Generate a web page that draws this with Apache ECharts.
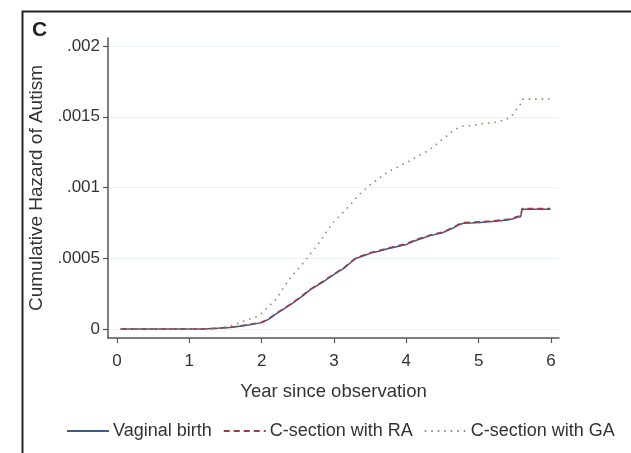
<!DOCTYPE html>
<html>
<head>
<meta charset="utf-8">
<script src="https://cdn.jsdelivr.net/npm/echarts@6/dist/echarts.min.js"></script>
<style>
  html, body { margin: 0; padding: 0; background: #fff; }
  #chart { width: 631px; height: 453px; }
</style>
</head>
<body>
<div id="chart"></div>
<script>
// Cumulative hazard of autism by mode of delivery / anaesthesia
const xTicks = [0, 1, 2, 3, 4, 5, 6];
const yTicks = [0, 0.0005, 0.001, 0.0015, 0.002];
const yTickLabels = ['0', '.0005', '.001', '.0015', '.002'];
const seriesNames = ['Vaginal birth', 'C-section with RA', 'C-section with GA'];

// [year, cumulative hazard]
const vaginal = [
  [0.05, 0], [1.2, 0], [1.4, 0.000005], [1.56, 0.00001], [1.7, 0.00002], [1.84, 0.00003],
  [2.0, 0.000045], [2.1, 0.00007], [2.19, 0.000104], [2.27, 0.00013], [2.35, 0.000156],
  [2.42, 0.00018], [2.49, 0.000205], [2.58, 0.00024], [2.67, 0.000276], [2.76, 0.000305],
  [2.85, 0.000334], [2.95, 0.000368], [3.04, 0.000398], [3.14, 0.00043], [3.22, 0.000465],
  [3.31, 0.0005], [3.42, 0.00052], [3.52, 0.000538], [3.62, 0.00055], [3.73, 0.000565],
  [3.85, 0.00058], [4.0, 0.000598], [4.1, 0.00062], [4.2, 0.000638], [4.33, 0.00066],
  [4.5, 0.00068], [4.65, 0.000715], [4.72, 0.000735], [4.79, 0.000748], [4.9, 0.00075],
  [5.02, 0.000753], [5.15, 0.000758], [5.3, 0.000765], [5.42, 0.000772], [5.48, 0.00078],
  [5.55, 0.000792], [5.58, 0.000794], [5.6, 0.000846], [5.99, 0.000846]
];
const sectionRA = [
  [0.05, 0], [1.2, 0], [1.4, 0.000006], [1.56, 0.000012], [1.7, 0.000022], [1.84, 0.000033],
  [2.0, 0.000048], [2.1, 0.000074], [2.19, 0.000108], [2.27, 0.000134], [2.35, 0.00016],
  [2.42, 0.000184], [2.49, 0.00021], [2.58, 0.000245], [2.67, 0.00028], [2.76, 0.00031],
  [2.85, 0.000338], [2.95, 0.000372], [3.04, 0.000402], [3.14, 0.000435], [3.22, 0.00047],
  [3.31, 0.000505], [3.42, 0.000525], [3.52, 0.000542], [3.62, 0.000555], [3.73, 0.00057],
  [3.85, 0.000585], [4.0, 0.000603], [4.1, 0.000625], [4.2, 0.000643], [4.33, 0.000665],
  [4.5, 0.000685], [4.65, 0.00072], [4.72, 0.00074], [4.79, 0.000753], [4.9, 0.000755],
  [5.02, 0.000758], [5.15, 0.000763], [5.3, 0.00077], [5.42, 0.000777], [5.48, 0.000786],
  [5.55, 0.000798], [5.58, 0.0008], [5.6, 0.000852], [5.99, 0.000852]
];
const sectionGA = [
  [0.05, 0], [1.3, 0], [1.45, 0.00001], [1.56, 0.00002], [1.68, 0.00004], [1.79, 0.000064],
  [1.93, 0.000087], [2.0, 0.00011], [2.07, 0.000146], [2.14, 0.00018], [2.21, 0.000217],
  [2.3, 0.00029], [2.39, 0.000358], [2.48, 0.00041], [2.58, 0.000469], [2.67, 0.00053],
  [2.76, 0.000587], [2.85, 0.000652], [2.94, 0.00072], [3.02, 0.00077], [3.1, 0.00081],
  [3.18, 0.000853], [3.26, 0.0009], [3.34, 0.000947], [3.45, 0.000995], [3.52, 0.00103],
  [3.59, 0.00105], [3.68, 0.00109], [3.78, 0.00112], [3.9, 0.00115], [4.05, 0.00119],
  [4.15, 0.00122], [4.28, 0.001255], [4.38, 0.00129], [4.47, 0.00133], [4.57, 0.00137],
  [4.67, 0.00141], [4.77, 0.001435], [4.9, 0.001437], [5.02, 0.00145], [5.2, 0.001458],
  [5.37, 0.00148], [5.45, 0.0015], [5.5, 0.00154], [5.57, 0.00158], [5.6, 0.001625],
  [5.98, 0.001625]
];

const font = 'Liberation Sans, Arial, sans-serif';
const textColor = '#333';
const axisColor = '#555';

const chart = echarts.init(document.getElementById('chart'), null, { renderer: 'canvas' });
chart.setOption({
  backgroundColor: '#fff',
  animation: false,
  textStyle: { fontFamily: font },
  graphic: [
    {
      type: 'rect', left: 20, top: 9,
      shape: { x: 0, y: 0, width: 640, height: 470 },
      style: { fill: 'none', stroke: '#222', lineWidth: 2 }
    },
    {
      type: 'text', left: 32, top: 20,
      style: { text: 'C', font: 'bold 21px ' + font, fill: '#222' }
    }
  ],
  grid: { left: 108, right: 72, top: 38, bottom: 115, containLabel: false },
  legend: {
    left: 66, top: 422, width: 564, padding: 0,
    itemWidth: 42, itemHeight: 14, itemGap: 11,
    itemStyle: { color: 'transparent', borderColor: 'transparent', borderWidth: 0 },
    textStyle: { fontSize: 18, color: textColor, fontFamily: font, padding: [0, 0, 0, -1] },
    data: seriesNames
  },
  xAxis: {
    type: 'value', min: -0.124, max: 6.11,
    name: 'Year since observation', nameLocation: 'middle', nameGap: 44,
    nameTextStyle: { fontSize: 18.5, color: textColor, fontFamily: font },
    axisLine: { show: true, onZero: false, lineStyle: { color: axisColor, width: 1.5 } },
    axisTick: { show: true, length: 5, customValues: xTicks, lineStyle: { color: axisColor, width: 1.2 } },
    axisLabel: { customValues: xTicks, margin: 15, fontSize: 17, color: textColor, fontFamily: font },
    splitLine: { show: false }
  },
  yAxis: {
    type: 'value', min: -0.0000636, max: 0.002057,
    name: 'Cumulative Hazard of Autism', nameLocation: 'middle', nameGap: 55,
    nameTextStyle: { fontSize: 19, color: textColor, fontFamily: font },
    axisLine: { show: true, onZero: false, lineStyle: { color: axisColor, width: 1.5 } },
    axisTick: { show: true, length: 5, customValues: yTicks, lineStyle: { color: axisColor, width: 1.2 } },
    axisLabel: {
      customValues: yTicks, margin: 8, fontSize: 17, color: textColor, fontFamily: font,
      formatter: v => {
        const i = yTicks.findIndex(t => Math.abs(t - v) < 1e-9);
        return i >= 0 ? yTickLabels[i] : '';
      }
    },
    splitLine: { show: true, lineStyle: { color: '#eef3f3', width: 1 } }
  },
  series: [
    {
      name: seriesNames[0], type: 'line', data: vaginal,
      symbol: 'none', z: 2,
      lineStyle: { color: '#3c5a8c', width: 1.5, type: 'solid' },
      itemStyle: { color: '#3c5a8c' }
    },
    {
      name: seriesNames[1], type: 'line', data: sectionRA,
      symbol: 'none', z: 3,
      lineStyle: { color: '#a33a46', width: 1.5, type: [6, 4] },
      itemStyle: { color: '#a33a46' }
    },
    {
      name: seriesNames[2], type: 'line', data: sectionGA,
      symbol: 'none', z: 4,
      lineStyle: { color: '#8c8c6c', width: 1.6, type: [1.5, 5] },
      itemStyle: { color: '#8c8c6c' }
    }
  ]
});
</script>
</body>
</html>
